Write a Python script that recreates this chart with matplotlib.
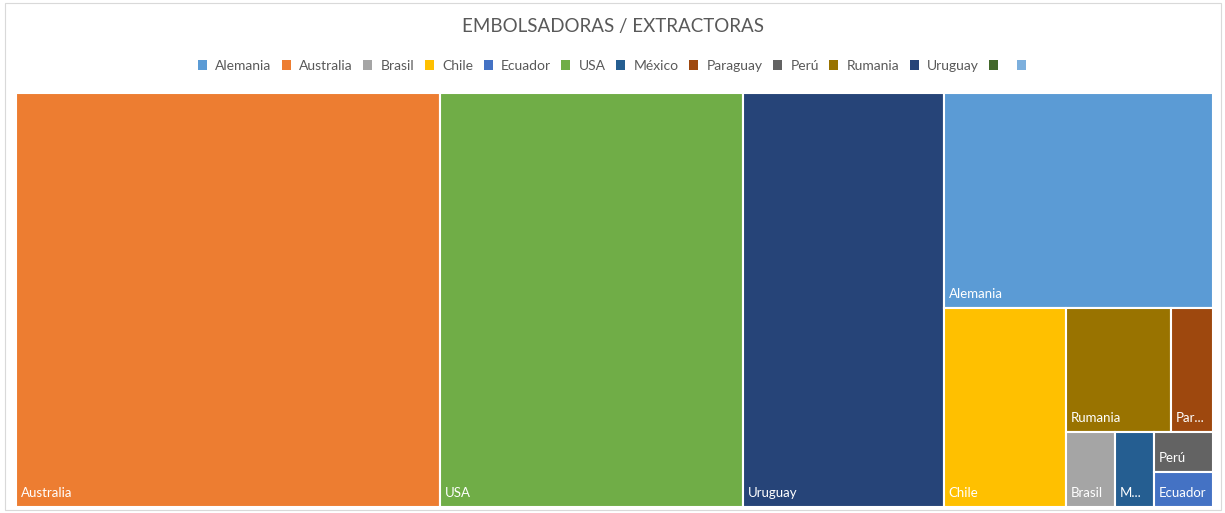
import matplotlib
matplotlib.use('Agg')
import matplotlib.pyplot as plt
from matplotlib.patches import Rectangle, Patch

plt.rcParams['font.family'] = ['Lato', 'DejaVu Sans']

# ---------------- datos (ordenados de mayor a menor) ----------------
paises = ['Australia', 'USA', 'Uruguay', 'Alemania', 'Chile', 'Rumania',
          'Paraguay', 'Brasil', 'México', 'Perú', 'Ecuador']
valores = [35.4, 25.3, 16.8, 11.7, 4.9, 2.63, 1.05, 0.73, 0.59, 0.47, 0.42]

# orden de la leyenda (como en Excel), las dos ultimas sin nombre
leyenda = ['Alemania', 'Australia', 'Brasil', 'Chile', 'Ecuador', 'USA', 'México',
           'Paraguay', 'Perú', 'Rumania', 'Uruguay', '', '']
colores = ['#5B9BD5', '#ED7D31', '#A5A5A5', '#FFC000', '#4472C4', '#70AD47', '#255E91',
           '#9E480E', '#636363', '#997300', '#264478', '#43682B', '#7CAFDD']

# cuantos elementos entran en cada tira del treemap
tiras = [1, 1, 1, 1, 1, 2, 1, 1, 1, 1]

titulo = 'EMBOLSADORAS / EXTRACTORAS'
gris = '#595959'


def treemap(vals, grupos, x, y, w, h):
    rects = []
    total = float(sum(vals))
    i = 0
    for n in grupos:
        fila = vals[i:i + n]
        s = sum(fila)
        frac = s / total
        if w >= h:
            # columna a la izquierda, de arriba hacia abajo
            ancho = w * frac
            yy = y + h
            for v in fila:
                alto = h * v / s
                yy -= alto
                rects.append((x, yy, ancho, alto))
            x += ancho
            w -= ancho
        else:
            # fila arriba, de izquierda a derecha
            alto = h * frac
            xx = x
            for v in fila:
                ancho = w * v / s
                rects.append((xx, y + h - alto, ancho, alto))
                xx += ancho
            h -= alto
        total -= s
        i += n
    return rects


fig = plt.figure(figsize=(12.25, 5.13), dpi=100)
izq, der, abajo, arriba = 16 / 1225, 1213 / 1225, 6 / 513, 420 / 513
ax = fig.add_axes([izq, abajo, der - izq, arriba - abajo])
W = (der - izq) * 1225
H = (arriba - abajo) * 513
ax.set_xlim(0, W)
ax.set_ylim(0, H)
ax.axis('off')

rects = treemap(valores, tiras, 0, 0, W, H)
renderer = fig.canvas.get_renderer()
for nombre, (x, y, w, h) in zip(paises, rects):
    color = colores[leyenda.index(nombre)]
    ax.add_patch(Rectangle((x, y), w, h, facecolor=color, edgecolor='white', linewidth=1.5))
    t = ax.text(x + 5, y + 8, nombre, color='white', fontsize=9.5, ha='left', va='bottom')
    # recortar etiqueta si no entra, como hace Excel
    if t.get_window_extent(renderer).width > w - 9:
        texto = nombre
        while t.get_window_extent(renderer).width > w - 12 and len(texto) > 1:
            texto = texto[:-1]
            t.set_text(texto + '...')

fig.text(0.5, 1 - 27 / 513, titulo, ha='center', va='center', fontsize=13.5, color=gris)

handles = [Patch(facecolor=c, edgecolor='none') for c in colores]
fig.legend(handles, leyenda, loc='center', bbox_to_anchor=(0.503, 1 - 66 / 513), ncol=13,
           frameon=False, fontsize=10, handlelength=0.65, handleheight=0.65,
           handletextpad=0.6, columnspacing=0.75, labelcolor=gris)

fig.patches.append(Rectangle((5 / 1225, 3 / 513), 1216 / 1225, 507 / 513, transform=fig.transFigure,
                             fill=False, edgecolor='#D9D9D9', linewidth=0.8))

fig.savefig('out.png', dpi=100, facecolor='white')
